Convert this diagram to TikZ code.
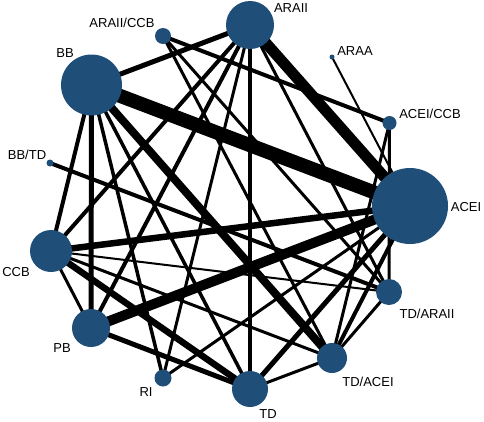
\documentclass[tikz,border=0pt]{standalone}
\usepackage{fontspec}
\setmainfont{Liberation Sans}
\usepackage{tikz}
\definecolor{nodeblue}{RGB}{31,78,121}
\tikzset{
  edge/.style={line cap=butt},
  trt/.style={circle, fill=nodeblue, inner sep=0pt, outer sep=0pt},
  lbl/.style={font=\fontsize{13}{15}\selectfont, inner sep=0pt}
}

\begin{document}
\begin{tikzpicture}[x=1pt,y=-1pt]
  \useasboundingbox (0,0) rectangle (484,421);
  \coordinate (ARAII) at (250,25);
  \coordinate (ARAIICCB) at (163,36);
  \coordinate (BB) at (91.5,85);
  \coordinate (ARAA) at (332,57);
  \coordinate (ACEICCB) at (389.5,123);
  \coordinate (BBTD) at (50,163);
  \coordinate (ACEI) at (410,206);
  \coordinate (CCB) at (51,251);
  \coordinate (PB) at (91,328);
  \coordinate (RI) at (163,378);
  \coordinate (TD) at (250,389);
  \coordinate (TDACEI) at (332,358);
  \coordinate (TDARAII) at (389,292);

  \foreach \a/\b/\w in {BB/ACEI/14, ARAII/ACEI/11, PB/ACEI/10, BB/TDACEI/8,
      CCB/ACEI/6.5, CCB/TD/6.5, BB/ARAII/5, BB/PB/5, PB/TD/5, ACEI/TD/5,
      ARAII/TD/4, ARAII/CCB/4, ARAII/PB/4, BB/CCB/4, BB/TD/3.5, BB/RI/3.5,
      ARAIICCB/ACEICCB/4, BBTD/TDARAII/4, ACEI/TDACEI/4, ARAII/RI/3,
      RI/ACEI/3, CCB/PB/3, CCB/TDACEI/3, CCB/TDARAII/2, TD/TDACEI/3,
      TDACEI/TDARAII/3, ACEICCB/TDARAII/3, ACEICCB/TDACEI/3, ARAA/ACEI/2,
      ARAIICCB/TDACEI/3, ARAIICCB/TDARAII/3, ARAII/TDARAII/3}
    \draw[edge, line width=\w pt] (\a) -- (\b);

  \foreach \n/\r in {ARAII/24, ARAIICCB/8, BB/30.5, ARAA/2.5, ACEICCB/7,
      BBTD/3.5, ACEI/38, CCB/21, PB/19, RI/8.5, TD/18, TDACEI/15, TDARAII/13}
    \node[trt, minimum size=2*\r pt] (n\n) at (\n) {};

  \node[lbl] (lARAII) at (291,8.5) {ARAII};
  \node[lbl] (lARAIICCB) at (122,23) {ARAII/CCB};
  \node[lbl] (lBB) at (65,53) {BB};
  \node[lbl] (lARAA) at (355,51) {ARAA};
  \node[lbl] (lACEICCB) at (430,114) {ACEI/CCB};
  \node[lbl] (lBBTD) at (27,155) {BB/TD};
  \node[lbl] (lACEI) at (466,207) {ACEI};
  \node[lbl] (lCCB) at (16,272) {CCB};
  \node[lbl] (lTDARAII) at (427,314) {TD/ARAII};
  \node[lbl] (lPB) at (62,348) {PB};
  \node[lbl] (lTDACEI) at (368,382) {TD/ACEI};
  \node[lbl] (lRI) at (146,392) {RI};
  \node[lbl] (lTD) at (268,414) {TD};
\end{tikzpicture}
\end{document}
